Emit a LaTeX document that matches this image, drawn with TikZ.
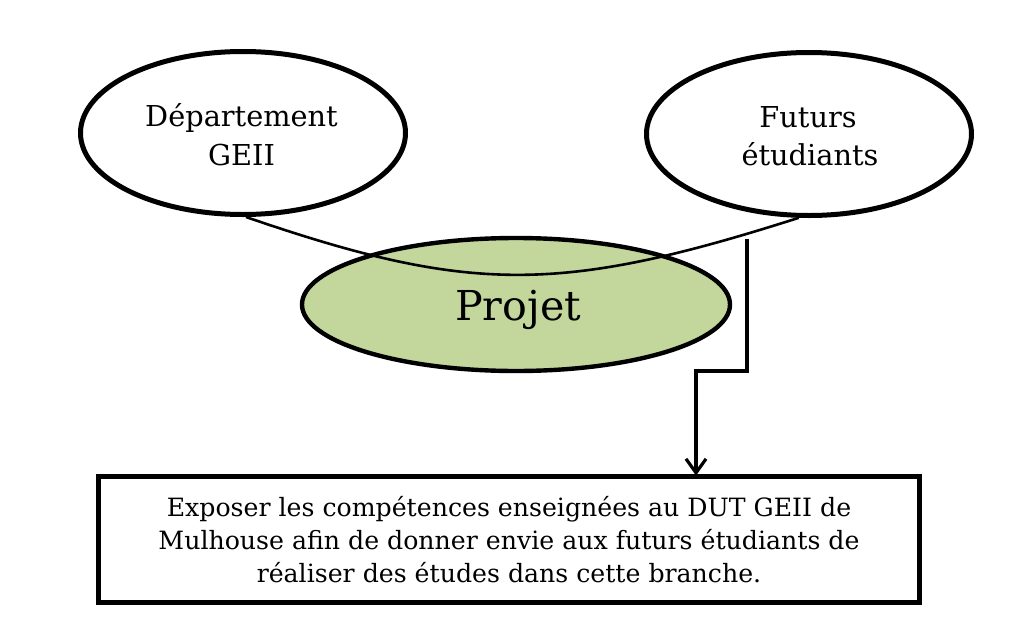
\documentclass[tikz,border=0pt]{standalone}
\usepackage{fontspec}
\setmainfont{DejaVu Serif}
\usetikzlibrary{shapes.geometric,arrows.meta}
\definecolor{projgreen}{HTML}{C3D69B}
\tikzset{
  actor/.style={ellipse,draw=black,line width=2.5pt,fill=white,inner sep=0pt,
    minimum width=162.5pt,minimum height=81.5pt},
  projell/.style={ellipse,draw=black,line width=2.2pt,fill=projgreen,inner sep=0pt,
    minimum width=214pt,minimum height=66.5pt},
  goalbox/.style={rectangle,draw=black,line width=2.5pt,fill=white,inner sep=0pt,
    minimum width=410.5pt,minimum height=63pt,align=center,
    font=\fontsize{12.6pt}{16.5pt}\selectfont},
  ltext/.style={inner sep=0pt,anchor=base,font=\fontsize{14.4pt}{19.5pt}\selectfont},
  ptext/.style={inner sep=0pt,anchor=base,font=\fontsize{20.6pt}{24pt}\selectfont},
  link/.style={draw=black,line width=1.3pt},
  elbow/.style={draw=black,line width=1.6pt,-{Straight Barb[length=7pt,width=10pt]}}
}
\begin{document}
\begin{tikzpicture}[x=0.5pt,y=-0.5pt]
\useasboundingbox (0,0) rectangle (1024,627);
% actors
\node[actor] (dep) at (243,133) {};
\node[actor] (fut) at (809,134) {};
\node[ltext] (depA) at (241.5,126) {Département};
\node[ltext] (depB) at (241.5,165) {GEII};
\node[ltext] (futA) at (808,127) {Futurs};
\node[ltext] (futB) at (810,165) {étudiants};
% project
\node[projell] (proj) at (516,304.5) {};
\node[ptext] (projt) at (518,320) {Projet};
% link between actors passing through project
\draw[link] (dep.-88) .. controls (470,294) and (560,294) .. (fut.-97);
% goal box
\node[goalbox] (goal) at (509,539.5) {Exposer les compétences enseignées au DUT GEII de\\
Mulhouse afin de donner envie aux futurs étudiants de\\
réaliser des études dans cette branche.};
% elbow connector
\coordinate (estart) at (747,239);
\coordinate (ebend) at (696,371);
\draw[elbow] (estart) |- (ebend) -- ([yshift=-0.8pt]ebend |- goal.north);
\end{tikzpicture}
\end{document}
